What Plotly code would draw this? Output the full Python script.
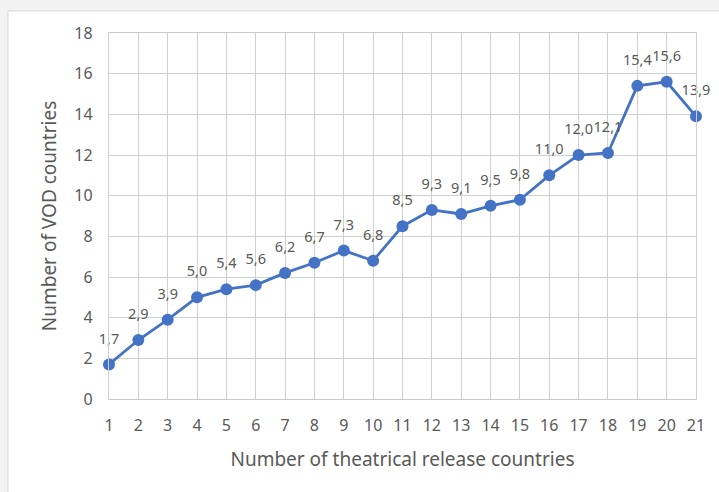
import plotly.graph_objects as go

theatrical = list(range(1, 22))
vod = [1.7, 2.9, 3.9, 5.0, 5.4, 5.6, 6.2, 6.7, 7.3, 6.8, 8.5, 9.3, 9.1, 9.5, 9.8,
       11.0, 12.0, 12.1, 15.4, 15.6, 13.9]
labels = [f"{v:.1f}".replace(".", ",") for v in vod]
y_ticks = list(range(0, 19, 2))

L, R, T, B = 109, 23, 33, 93
W, H = 719, 492
pw, ph = W - L - R, H - T - B

def px(x):
    return (x - L) / pw

def py(y):
    return (H - B - y) / ph

fig = go.Figure()
fig.add_trace(go.Scatter(
    x=theatrical, y=vod, mode="lines+markers",
    line=dict(color="#4472C4", width=2.8),
    marker=dict(color="#4472C4", size=12),
    cliponaxis=False, showlegend=False, hoverinfo="skip",
))
fig.add_trace(go.Scatter(
    x=theatrical, y=vod, mode="markers+text",
    text=labels, textposition="top center",
    textfont=dict(size=14.5, color="#595959"),
    marker=dict(size=26, opacity=0),
    cliponaxis=False, showlegend=False,
))

fig.add_shape(type="rect", xref="paper", yref="paper",
              x0=px(8), x1=px(740), y0=py(510), y1=py(11),
              fillcolor="white", line=dict(color="#d9d9d9", width=1), layer="below")

fig.update_layout(
    width=W, height=H,
    margin=dict(l=L, r=R, t=T, b=B),
    paper_bgcolor="#f2f2f2", plot_bgcolor="white",
    font=dict(family="Noto Sans", color="#595959", size=16),
)
fig.update_xaxes(
    range=[1, 21], tickvals=theatrical, showgrid=True, gridcolor="#d0d0d0", gridwidth=1.3,
    zeroline=False, showline=True, linecolor="#c8c8c8", linewidth=1.3, mirror=True, ticks="",
    ticklabelstandoff=12,
    title=dict(text="Number of theatrical release countries", standoff=17),
    tickfont=dict(size=16),
)
fig.update_yaxes(
    range=[0, 18], tickvals=y_ticks, showgrid=True, gridcolor="#d0d0d0", gridwidth=1.3,
    zeroline=False, showline=True, linecolor="#d0d0d0", linewidth=1.3, mirror=True, ticks="",
    ticklabelstandoff=12,
    title=dict(text="Number of VOD countries", standoff=12),
    tickfont=dict(size=16),
)

fig.write_html("out.html")
